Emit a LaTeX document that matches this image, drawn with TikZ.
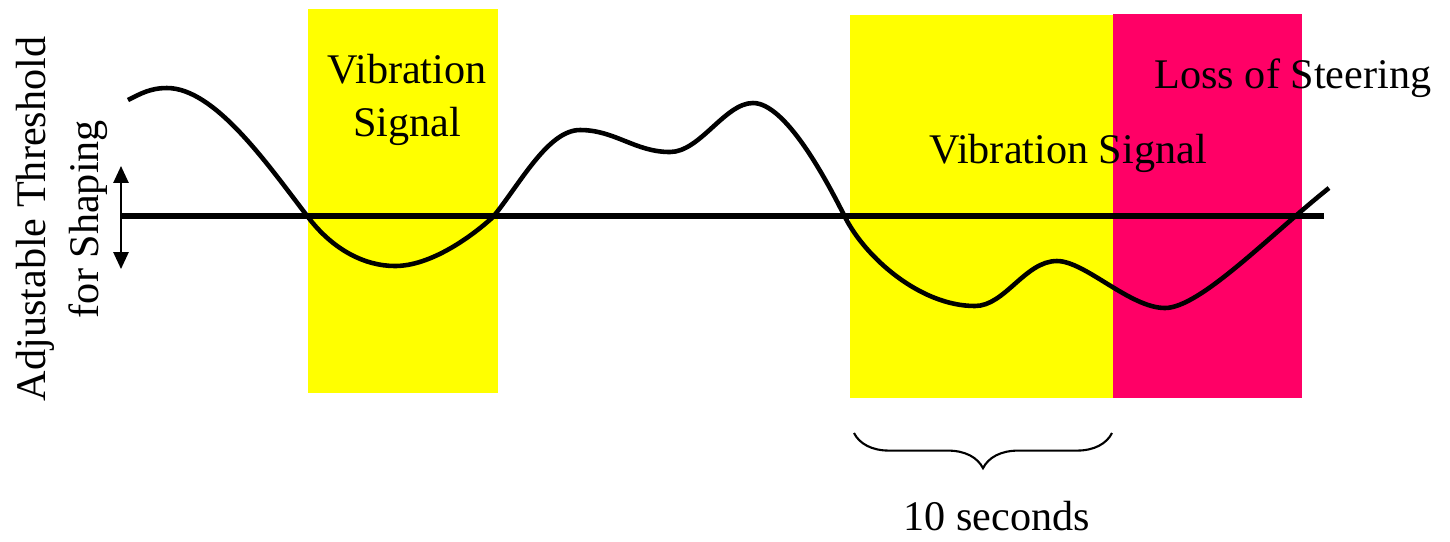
\documentclass[tikz,border=0pt]{standalone}
\usepackage{fontspec}
\setmainfont{Liberation Serif}
\usepackage{xcolor}
\definecolor{vibyellow}{RGB}{255, 255, 0}
\definecolor{losspink}{RGB}{255, 0, 102}
\usepackage{tikz}
\usetikzlibrary{arrows.meta, decorations.pathreplacing}

\tikzset{
  bandtext/.style={font=\fontsize{12}{15}\selectfont, align=center, inner sep=0pt},
  signal/.style={line width=1.3pt, line join=round},
  threshold/.style={line width=1.9pt}
}

\begin{document}
\begin{tikzpicture}[x=0.01cm, y=-0.01cm]
    \useasboundingbox (0,0) rectangle (1450,541);

    % signal bands
    \fill[vibyellow] (308,9) rectangle (498,393);
    \fill[vibyellow] (850,15) rectangle (1113,398);
    \fill[losspink] (1113,14) rectangle (1302,398);

    % labels
    \node[bandtext, anchor=base] (vibone) at (407,136) {Vibration\\Signal};
    \node[bandtext, anchor=base] (vibtwo) at (1068,163) {Vibration Signal};
    \node[bandtext, anchor=base] (loss) at (1293,88) {Loss of Steering};
    \node[bandtext, rotate=90, anchor=center] (adjust) at (62,219)
      {Adjustable Threshold\\for Shaping};

    % waveform
    \draw[signal] (128,100) .. controls (140,94) and (150,88) .. (167,88)
      .. controls (215,88) and (268,165) .. (308,217)
      .. controls (333,250) and (365,266) .. (395,266)
      .. controls (430,266) and (470,238) .. (493,217)
      .. controls (520,184) and (548,130) .. (580,130)
      .. controls (615,130) and (635,152) .. (670,152)
      .. controls (700,152) and (725,103) .. (753,103)
      .. controls (785,103) and (825,177) .. (845,217)
      .. controls (865,257) and (920,306) .. (975,306)
      .. controls (1005,306) and (1025,261) .. (1057,261)
      .. controls (1085,261) and (1130,308) .. (1165,308)
      .. controls (1200,308) and (1270,235) .. (1329,188);

    % threshold and its adjustment
    \coordinate (thrstart) at (120,216);
    \coordinate (thrend) at (1324,216);
    \draw[threshold] (thrstart) -- (thrend);
    \coordinate (adjtop) at (121,166);
    \coordinate (adjbot) at (121,269);
    \draw[line width=0.6pt, {Triangle[width=4.3pt, length=4.8pt]}-{Triangle[width=4.3pt, length=4.8pt]}]
      (adjtop) -- (adjbot);

    % ten second window
    \coordinate (winstart) at (854,433);
    \coordinate (winend) at (1112,433);
    \draw[line width=0.6pt, decorate, decoration={brace, mirror, amplitude=10pt}]
      (winstart) -- (winend);
    \node[bandtext, anchor=base] (tensec) at (997,530) {10 seconds};
\end{tikzpicture}
\end{document}
